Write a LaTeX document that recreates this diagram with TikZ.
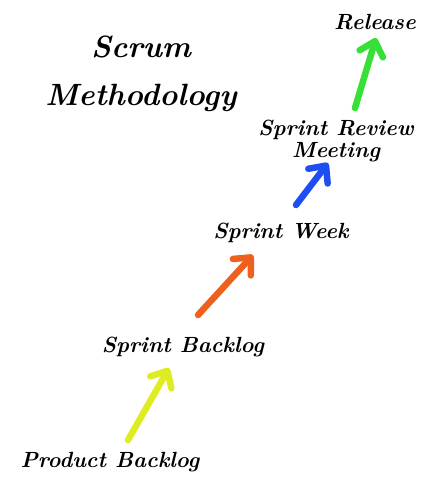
\documentclass[tikz,border=0pt]{standalone}
\usepackage{xcolor}
\usepackage{tikz}
\usetikzlibrary{arrows.meta,positioning}
\definecolor{palYellow}{HTML}{DFEC22}
\definecolor{palOrange}{HTML}{EE601E}
\definecolor{palBlue}{HTML}{1E4EF2}
\definecolor{palGreen}{HTML}{36E036}
\begin{document}
\begin{tikzpicture}[
  x=0.02cm, y=-0.02cm,
  font=\bfseries\itshape,
  lbl/.style={align=center, inner sep=1pt, font=\bfseries\itshape\fontsize{12.5}{13}\selectfont},
  title/.style={align=center, inner sep=1pt, font=\bfseries\itshape\fontsize{17.5}{27}\selectfont},
  arrow/.style={-{Straight Barb[angle=85:3.6mm, round]}, line width=3.7pt, line cap=round, line join=round},
]
\useasboundingbox (0,0) rectangle (434,500);
\node[title] (scrum) at (141,74) {Scrum\\Methodology};
\node[lbl] (release) at (375,22) {Release};
\node[lbl] (review) at (336,141) {Sprint Review\\Meeting};
\node[lbl] (week) at (281,233) {Sprint Week};
\node[lbl] (sbl) at (183,347) {Sprint Backlog};
\node[lbl] (prod) at (110,462) {Product Backlog};

\draw[arrow, palYellow] ([shift={(18,-22)}]prod.center) -- ([shift={(-14,21)}]sbl.center);
\draw[arrow, palOrange] ([shift={(15,-32)}]sbl.center) -- ([shift={(-28,22)}]week.center);
\draw[arrow, palBlue] ([shift={(15,-28)}]week.center) -- ([shift={(-8,22)}]review.center);
\draw[arrow, palGreen] ([shift={(19,-33)}]review.center) -- ([shift={(1,16)}]release.center);
\end{tikzpicture}
\end{document}
